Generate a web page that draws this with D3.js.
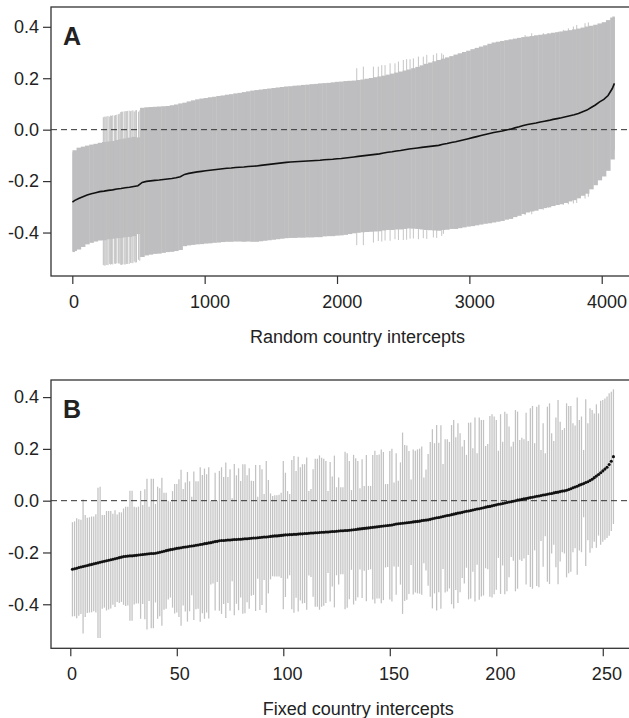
<!DOCTYPE html>
<html>
<head>
<meta charset="utf-8">
<script src="https://cdnjs.cloudflare.com/ajax/libs/d3/7.8.5/d3.min.js"></script>
<style>
  body { margin: 0; background: #fff; }
  text { font-family: "Liberation Sans", Arial, Helvetica, sans-serif; fill: #222; }
</style>
</head>
<body>
<svg id="chart" width="629" height="718"></svg>
<script>
// ---- panel A: random country intercepts, every 32 countries ----
const aIdx = [1, 16, 48, 80, 112, 144, 176, 208, 240, 272, 304, 336, 368, 400, 432, 464, 496, 528, 560, 592,
  624, 656, 688, 720, 752, 784, 816, 848, 880, 912, 944, 976, 1008, 1040, 1072, 1104, 1136, 1168, 1200, 1232,
  1264, 1296, 1328, 1360, 1392, 1424, 1456, 1488, 1520, 1552, 1584, 1616, 1648, 1680, 1712, 1744, 1776, 1808,
  1840, 1872, 1904, 1936, 1968, 2000, 2032, 2064, 2096, 2128, 2160, 2192, 2224, 2256, 2288, 2320, 2352, 2384,
  2416, 2448, 2480, 2512, 2544, 2576, 2608, 2640, 2672, 2704, 2736, 2768, 2800, 2832, 2864, 2896, 2928, 2960,
  2992, 3024, 3056, 3088, 3120, 3152, 3184, 3216, 3248, 3280, 3312, 3344, 3376, 3408, 3440, 3472, 3504, 3536,
  3568, 3600, 3632, 3664, 3696, 3728, 3760, 3792, 3824, 3856, 3888, 3920, 3952, 3984, 4016, 4048, 4080, 4096];
const aEst = [-0.282,
  -0.276, -0.268, -0.261, -0.254, -0.249, -0.245, -0.241, -0.239, -0.236, -0.234,
  -0.231, -0.229, -0.226, -0.224, -0.221, -0.218, -0.205, -0.201, -0.199, -0.197,
  -0.196, -0.194, -0.192, -0.190, -0.187, -0.183, -0.174, -0.170, -0.167, -0.164,
  -0.162, -0.160, -0.158, -0.156, -0.154, -0.152, -0.150, -0.149, -0.147, -0.146,
  -0.145, -0.143, -0.142, -0.141, -0.139, -0.137, -0.135, -0.133, -0.131, -0.129,
  -0.127, -0.126, -0.125, -0.124, -0.123, -0.122, -0.121, -0.120, -0.119, -0.117,
  -0.116, -0.115, -0.113, -0.112, -0.110, -0.108, -0.106, -0.104, -0.102, -0.100,
  -0.098, -0.096, -0.094, -0.091, -0.088, -0.086, -0.083, -0.081, -0.078, -0.075,
  -0.073, -0.071, -0.069, -0.067, -0.065, -0.063, -0.061, -0.057, -0.054, -0.050,
  -0.047, -0.043, -0.039, -0.035, -0.031, -0.027, -0.023, -0.019, -0.015, -0.011,
  -0.008, -0.005, -0.001, 0.002, 0.007, 0.011, 0.016, 0.020, 0.023, 0.026,
  0.030, 0.033, 0.036, 0.040, 0.043, 0.046, 0.050, 0.054, 0.058, 0.063,
  0.070, 0.076, 0.086, 0.096, 0.108, 0.118, 0.133, 0.160,
  0.180];
const aUpper = [-0.088,
  -0.080, -0.070, -0.066, -0.062, -0.058, -0.055, -0.051, -0.048, -0.046, -0.044,
  -0.040, -0.037, -0.034, -0.031, -0.028, -0.030, 0.085, 0.087, 0.088, 0.089,
  0.090, 0.091, 0.092, 0.095, 0.098, 0.102, 0.105, 0.110, 0.114, 0.118,
  0.121, 0.123, 0.126, 0.128, 0.131, 0.133, 0.136, 0.138, 0.141, 0.143,
  0.146, 0.149, 0.152, 0.154, 0.156, 0.158, 0.160, 0.162, 0.164, 0.166,
  0.168, 0.169, 0.171, 0.172, 0.174, 0.175, 0.177, 0.178, 0.180, 0.181,
  0.182, 0.184, 0.186, 0.187, 0.189, 0.190, 0.191, 0.193, 0.195, 0.198,
  0.201, 0.204, 0.207, 0.210, 0.214, 0.218, 0.222, 0.226, 0.230, 0.234,
  0.239, 0.244, 0.250, 0.256, 0.261, 0.266, 0.271, 0.276, 0.281, 0.286,
  0.292, 0.297, 0.302, 0.307, 0.313, 0.318, 0.323, 0.328, 0.334, 0.339,
  0.342, 0.345, 0.348, 0.351, 0.354, 0.357, 0.360, 0.362, 0.364, 0.367,
  0.369, 0.371, 0.374, 0.377, 0.379, 0.382, 0.385, 0.387, 0.390, 0.393,
  0.397, 0.401, 0.404, 0.408, 0.413, 0.418, 0.426, 0.436,
  0.440];
// single wide intervals sticking out of the band in A
const aSpikeIdx = [234, 240, 247, 255, 262, 270, 280, 288, 296, 305, 318, 326, 336, 348, 355, 365, 372, 380,
  392, 400, 410, 418, 430, 440, 450, 458, 468, 476, 485, 500, 510,
  2149, 2199, 2275, 2312, 2338, 2363, 2401, 2438, 2464, 2501, 2526, 2552, 2577, 2615, 2652, 2678, 2728, 2753,
  2791, 2804,
  3421, 3471, 3559, 3597, 3673, 3710, 3748, 3786, 3811, 3874, 3899];
const aSpikeHigh = [0.048, 0.050, 0.051, 0.050, 0.052, 0.053, 0.050, 0.055, 0.054, 0.056, 0.055, 0.057, 0.058,
  0.060, 0.062, 0.068, 0.070, 0.070, 0.071, 0.072, 0.072, 0.073, 0.074, 0.072, 0.074, 0.075, 0.070, 0.075,
  0.076, 0.070, 0.075,
  0.239, 0.245, 0.245, 0.245, 0.251, 0.251, 0.258, 0.258, 0.265, 0.271, 0.274, 0.274, 0.277, 0.284, 0.284,
  0.291, 0.291, 0.297, 0.297, 0.291,
  0.368, 0.375, 0.375, 0.375, 0.381, 0.388, 0.394, 0.401, 0.407, 0.414, 0.417];
const aSpikeLow = [-0.526, -0.528, -0.529, -0.526, -0.526, -0.527, -0.522, -0.525, -0.523, -0.524, -0.521,
  -0.522, -0.520, -0.520, -0.521, -0.525, -0.526, -0.524, -0.524, -0.524, -0.522, -0.522, -0.522, -0.518,
  -0.519, -0.519, -0.513, -0.517, -0.516, -0.506, -0.510,
  -0.449, -0.449, -0.439, -0.433, -0.435, -0.431, -0.432, -0.426, -0.429, -0.429, -0.428, -0.424, -0.423,
  -0.426, -0.422, -0.425, -0.419, -0.421, -0.413, -0.405,
  -0.332, -0.329, -0.311, -0.303, -0.293, -0.292, -0.290, -0.287, -0.285, -0.268, -0.261];

// ---- panel B: fixed country intercepts, one per country (ranked) ----
const bEst = [
  -0.265, -0.263, -0.261, -0.258, -0.256, -0.254, -0.252, -0.250, -0.248, -0.246,
  -0.244, -0.242, -0.240, -0.238, -0.236, -0.234, -0.232, -0.230, -0.228, -0.226,
  -0.224, -0.222, -0.220, -0.218, -0.216, -0.215, -0.214, -0.213, -0.213, -0.212,
  -0.211, -0.210, -0.209, -0.208, -0.207, -0.206, -0.205, -0.204, -0.204, -0.203,
  -0.201, -0.199, -0.197, -0.195, -0.193, -0.191, -0.189, -0.188, -0.186, -0.184,
  -0.183, -0.182, -0.180, -0.179, -0.178, -0.176, -0.175, -0.174, -0.172, -0.171,
  -0.169, -0.168, -0.166, -0.165, -0.163, -0.162, -0.160, -0.158, -0.157, -0.155,
  -0.154, -0.154, -0.153, -0.152, -0.152, -0.151, -0.150, -0.150, -0.149, -0.149,
  -0.148, -0.147, -0.147, -0.146, -0.145, -0.144, -0.144, -0.143, -0.142, -0.141,
  -0.140, -0.140, -0.139, -0.138, -0.137, -0.136, -0.136, -0.135, -0.134, -0.133,
  -0.132, -0.132, -0.131, -0.131, -0.130, -0.130, -0.129, -0.128, -0.128, -0.127,
  -0.127, -0.126, -0.125, -0.125, -0.124, -0.124, -0.123, -0.122, -0.122, -0.121,
  -0.121, -0.120, -0.119, -0.119, -0.118, -0.117, -0.116, -0.116, -0.115, -0.115,
  -0.114, -0.113, -0.112, -0.111, -0.110, -0.109, -0.108, -0.107, -0.106, -0.105,
  -0.104, -0.103, -0.102, -0.101, -0.100, -0.099, -0.098, -0.097, -0.096, -0.095,
  -0.094, -0.092, -0.090, -0.089, -0.088, -0.087, -0.086, -0.085, -0.084, -0.083,
  -0.082, -0.081, -0.080, -0.079, -0.077, -0.076, -0.075, -0.074, -0.072, -0.070,
  -0.068, -0.066, -0.065, -0.063, -0.061, -0.059, -0.057, -0.056, -0.054, -0.052,
  -0.050, -0.048, -0.047, -0.045, -0.043, -0.041, -0.040, -0.038, -0.036, -0.034,
  -0.032, -0.031, -0.029, -0.027, -0.025, -0.023, -0.022, -0.020, -0.018, -0.016,
  -0.014, -0.013, -0.011, -0.009, -0.007, -0.005, -0.004, -0.002, 0.000, 0.002,
  0.003, 0.005, 0.007, 0.008, 0.010, 0.012, 0.013, 0.015, 0.017, 0.018,
  0.020, 0.022, 0.023, 0.025, 0.027, 0.028, 0.030, 0.032, 0.033, 0.035,
  0.037, 0.038, 0.040, 0.043, 0.046, 0.050, 0.053, 0.056, 0.060, 0.063,
  0.066, 0.070, 0.073, 0.078, 0.083, 0.089, 0.095, 0.101, 0.108, 0.115,
  0.122, 0.129, 0.140, 0.152, 0.170];
const bUpper = [
  -0.083, -0.080, -0.068, -0.072, -0.074, 0.005, -0.055, -0.066, -0.064, -0.061,
  -0.061, -0.052, 0.050, 0.054, -0.055, -0.055, -0.040, -0.040, -0.040, -0.050,
  -0.037, -0.053, -0.045, -0.045, -0.030, -0.023, -0.023, 0.038, 0.038, -0.023,
  -0.025, -0.023, 0.038, -0.017, 0.044, 0.085, -0.023, 0.085, 0.085, -0.013,
  0.054, 0.048, 0.089, 0.031, 0.031, 0.000, -0.004, 0.037, 0.064, 0.064,
  0.083, 0.119, 0.045, 0.070, 0.111, 0.075, 0.015, 0.113, 0.075, 0.075,
  0.129, 0.099, 0.124, 0.102, 0.129, 0.000, 0.000, 0.108, 0.000, 0.115,
  0.129, 0.091, 0.147, 0.091, 0.121, 0.009, 0.142, 0.098, 0.125, 0.076,
  0.141, 0.141, 0.098, 0.125, 0.077, 0.076, 0.138, 0.015, 0.138, 0.121,
  0.026, 0.153, 0.080, 0.028, 0.018, 0.021, 0.021, 0.023, 0.031, 0.153,
  0.108, 0.037, 0.026, 0.157, 0.173, 0.115, 0.170, 0.129, 0.141, 0.141,
  0.167, 0.037, 0.045, 0.121, 0.162, 0.162, 0.175, 0.166, 0.162, 0.153,
  0.037, 0.149, 0.093, 0.174, 0.052, 0.090, 0.052, 0.052, 0.189, 0.183,
  0.153, 0.041, 0.177, 0.164, 0.153, 0.048, 0.160, 0.057, 0.176, 0.057,
  0.057, 0.176, 0.193, 0.176, 0.178, 0.198, 0.188, 0.064, 0.064, 0.192,
  0.201, 0.070, 0.183, 0.077, 0.148, 0.263, 0.215, 0.213, 0.192, 0.082,
  0.198, 0.193, 0.198, 0.201, 0.209, 0.090, 0.120, 0.180, 0.227, 0.276,
  0.222, 0.292, 0.224, 0.291, 0.142, 0.237, 0.237, 0.227, 0.292, 0.312,
  0.245, 0.299, 0.260, 0.209, 0.234, 0.177, 0.301, 0.302, 0.202, 0.321,
  0.183, 0.321, 0.312, 0.312, 0.211, 0.219, 0.327, 0.334, 0.325, 0.312,
  0.193, 0.334, 0.228, 0.343, 0.336, 0.286, 0.209, 0.228, 0.350, 0.344,
  0.234, 0.243, 0.237, 0.340, 0.230, 0.357, 0.366, 0.222, 0.363, 0.370,
  0.196, 0.299, 0.183, 0.363, 0.376, 0.260, 0.230, 0.321, 0.389, 0.305,
  0.273, 0.280, 0.376, 0.366, 0.366, 0.299, 0.290, 0.398, 0.312, 0.325,
  0.196, 0.392, 0.299, 0.357, 0.350, 0.337, 0.372, 0.337, 0.386, 0.389,
  0.395, 0.402, 0.415, 0.421, 0.430];

const yTicks = [-0.4, -0.2, 0, 0.2, 0.4];
const aTicks = [0, 1000, 2000, 3000, 4000];
const bTicks = [0, 50, 100, 150, 200, 250];

const svg = d3.select('#chart');
const left = 51, right = 636;   // right side of the box runs off the picture
const gray = '#bebec0';

// scales and a group for one panel
function panel(top, bottom, xDom, yDom) {
  const x = d3.scaleLinear().domain(xDom).range([left, right]);
  const y = d3.scaleLinear().domain(yDom).range([bottom, top]);
  const g = svg.append('g');
  return { x, y, g, top, bottom };
}

// zero line, ticks, box, panel letter and axis title
function decorate(p, xTicks, letter, title, titleX, tickPad) {
  const { x, y, g, top, bottom } = p;

  g.append('line')
    .attr('x1', left).attr('x2', right)
    .attr('y1', y(0)).attr('y2', y(0))
    .attr('stroke', '#333').attr('stroke-width', 1)
    .attr('stroke-dasharray', '6,4');

  const yAx = g.append('g')
    .attr('transform', `translate(${left},0)`)
    .call(d3.axisLeft(y).tickValues(yTicks).tickFormat(d => d.toFixed(1)).tickSize(8).tickPadding(4));
  const xAx = g.append('g')
    .attr('transform', `translate(0,${bottom})`)
    .call(d3.axisBottom(x).tickValues(xTicks).tickFormat(d3.format('d')).tickSize(8).tickPadding(tickPad));

  [yAx, xAx].forEach(a => {
    a.select('.domain').remove();
    a.selectAll('line').attr('stroke', '#333').attr('stroke-width', 1.2);
    a.selectAll('text').style('font-size', '18px').attr('fill', '#222');
  });
  // in the original the labels sit a bit right of their ticks
  xAx.selectAll('text').each(function () {
    d3.select(this).attr('dx', 0.12 * this.getComputedTextLength());
  });

  g.append('rect')
    .attr('x', left).attr('y', top)
    .attr('width', right - left).attr('height', bottom - top)
    .attr('fill', 'none').attr('stroke', '#333').attr('stroke-width', 1.3);

  g.append('text')
    .attr('x', left + 12).attr('y', top + 38)
    .style('font-size', '25px').style('font-weight', 'bold')
    .text(letter);

  g.append('text')
    .attr('x', titleX).attr('y', bottom + 67)
    .attr('text-anchor', 'middle')
    .style('font-size', '18px')
    .text(title);
}

// ---- A ----
const A = panel(7, 276, [-161, 4259], [-0.569, 0.477]);
const aRows = aIdx.map((d, k) => ({ i: d, est: aEst[k], hi: aUpper[k], lo: aEst[k] - (aUpper[k] - aEst[k]) }));

A.g.append('g').selectAll('rect')
  .data(aRows)
  .join('rect')
  .attr('x', d => A.x(Math.max(1, d.i - 16)))
  .attr('width', d => A.x(Math.min(4096, d.i + 16)) - A.x(Math.max(1, d.i - 16)) + 0.4)
  .attr('y', d => A.y(d.hi))
  .attr('height', d => A.y(d.lo) - A.y(d.hi))
  .attr('fill', gray);

A.g.append('g').selectAll('line')
  .data(aSpikeIdx)
  .join('line')
  .attr('x1', d => A.x(d)).attr('x2', d => A.x(d))
  .attr('y1', (d, k) => A.y(aSpikeHigh[k]))
  .attr('y2', (d, k) => A.y(aSpikeLow[k]))
  .attr('stroke', gray).attr('stroke-width', 0.9);

decorate(A, aTicks, 'A', 'Random country intercepts', 357.5, 11.5);

A.g.append('path')
  .datum(aRows)
  .attr('fill', 'none').attr('stroke', '#111').attr('stroke-width', 1.6)
  .attr('d', d3.line().x(d => A.x(d.i)).y(d => A.y(d.est)));

// ---- B ----
const B = panel(380, 648.3, [-9.06, 265.6], [-0.570, 0.466]);
const bRows = bEst.map((e, k) => ({ i: k + 1, est: e, hi: bUpper[k], lo: e - (bUpper[k] - e) }));

B.g.append('g').selectAll('line')
  .data(bRows)
  .join('line')
  .attr('x1', d => B.x(d.i)).attr('x2', d => B.x(d.i))
  .attr('y1', d => B.y(d.hi)).attr('y2', d => B.y(d.lo))
  .attr('stroke', '#c2c2c2').attr('stroke-width', 1.25);

decorate(B, bTicks, 'B', 'Fixed country intercepts', 358.3, 11.3);

B.g.append('g').selectAll('circle')
  .data(bRows)
  .join('circle')
  .attr('cx', d => B.x(d.i)).attr('cy', d => B.y(d.est))
  .attr('r', 1.55).attr('fill', '#111');
</script>
</body>
</html>
